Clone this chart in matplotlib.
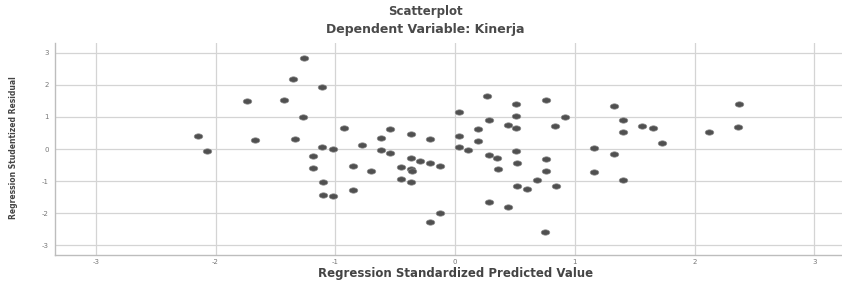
import numpy as np
import matplotlib
matplotlib.use("Agg")
import matplotlib.pyplot as plt
from matplotlib.path import Path

# Regression standardized predicted value (x) and studentized residual (y)
pred = [-2.15, -2.07, -1.74, -1.67, -1.43, -1.35, -1.26, -1.34, -1.27, -1.11,
        -1.19, -1.19, -1.11, -1.02, -1.10, -1.10, -1.02, -0.93, -0.85, -0.85,
        -0.78, -0.70, -0.62, -0.62, -0.54, -0.54, -0.37, -0.37, -0.45, -0.37,
        -0.36, -0.45, -0.37, -0.21, -0.29, -0.21, -0.13, -0.13, -0.21,
        0.03, 0.03, 0.03, 0.11, 0.19, 0.19, 0.27, 0.28, 0.28, 0.35,
        0.36, 0.28, 0.44, 0.44, 0.51, 0.51, 0.51, 0.51, 0.52, 0.52,
        0.60, 0.68, 0.76, 0.83, 0.76, 0.76, 0.84, 0.75, 0.92, 1.16,
        1.16, 1.33, 1.40, 1.40, 1.33, 1.40, 1.56, 1.65, 1.73, 2.12,
        2.37, 2.36]
resid = [0.41, -0.05, 1.50, 0.29, 1.53, 2.18, 2.83, 0.32, 0.99, 1.94,
         -0.21, -0.58, 0.07, 0.01, -1.04, -1.43, -1.48, 0.67, -0.53, -1.27,
         0.13, -0.69, 0.34, -0.02, 0.62, -0.11, 0.46, -0.29, -0.56, -0.63,
         -0.70, -0.93, -1.02, 0.30, -0.36, -0.44, -0.52, -1.99, -2.28,
         1.16, 0.41, 0.05, -0.03, 0.62, 0.26, 1.66, 0.91, -0.20, -0.28,
         -0.63, -1.67, -1.81, 0.75, 1.41, 1.03, 0.67, -0.06, -0.44, -1.17,
         -1.24, -0.96, 1.53, 0.72, -0.31, -0.68, -1.17, -2.58, 1.00, 0.02,
         -0.73, 1.35, 0.90, 0.53, -0.16, -0.97, 0.73, 0.65, 0.19, 0.53,
         1.42, 0.69]
ticks = [-3, -2, -1, 0, 1, 2, 3]

title1 = "Scatterplot"
title2 = "Dependent Variable: Kinerja"
xlabel = "Regression Standardized Predicted Value"
ylabel = "Regression Studentized Residual"

fig = plt.figure(figsize=(8.42, 2.82), dpi=100)
ax = fig.add_axes([55/842, 1-255/282, 1-55/842, (255-43)/282])

# elliptical marker (wider than tall)
t = np.linspace(0, 2*np.pi, 40)
ell = Path(np.column_stack([1.6*np.cos(t), np.sin(t)]), closed=True)

ax.scatter(pred, resid, marker=ell, s=38, facecolor="#505050",
           edgecolor="#8a8a8a", linewidths=0.5, zorder=3)

ax.set_xlim(-3.34, 3.23)
ax.set_ylim(-3.31, 3.31)
ax.set_xticks(ticks)
ax.set_yticks(ticks)
ax.set_xticklabels([str(v) for v in ticks], fontsize=5, color="#777777")
ax.set_yticklabels([str(v) for v in ticks], fontsize=5, color="#777777")
ax.tick_params(axis="x", length=0, pad=3)
ax.tick_params(axis="y", length=0, pad=4.5)
ax.grid(True, color="#d4d4d4", linewidth=0.9)
ax.set_axisbelow(True)
for s in ["top", "right"]:
    ax.spines[s].set_visible(False)
for s in ["left", "bottom"]:
    ax.spines[s].set_color("#bdbdbd")
    ax.spines[s].set_linewidth(1.0)

fig.text(425/842, 1-12/282, title1, ha="center", va="center",
         fontsize=8.5, fontweight="bold", color="#4a4a4a")
fig.text(425/842, 1-30/282, title2, ha="center", va="center",
         fontsize=9, fontweight="bold", color="#4a4a4a")
fig.text(456/842, 1-274/282, xlabel, ha="center", va="center",
         fontsize=8.5, fontweight="bold", color="#444444")
fig.text(14/842, 1-148/282, ylabel, ha="center", va="center", rotation=90,
         fontsize=5.5, fontweight="bold", color="#444444")

fig.savefig("out.png", dpi=100)
